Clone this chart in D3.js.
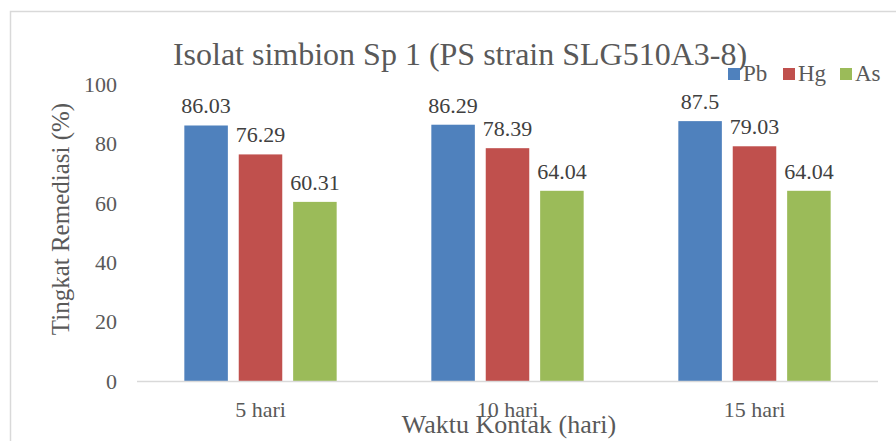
<!DOCTYPE html>
<html>
<head>
<meta charset="utf-8">
<script src="https://cdn.jsdelivr.net/npm/d3@7"></script>
<style>
  body { margin: 0; background: #fff; }
  svg { display: block; font-family: "Liberation Serif", "Times New Roman", serif; }
</style>
</head>
<body>
<svg class="chart"></svg>
<script>
const categories = ['5 hari', '10 hari', '15 hari'];
const seriesNames = ['Pb', 'Hg', 'As'];
const pbValues = [86.03, 86.29, 87.5];
const hgValues = [76.29, 78.39, 79.03];
const asValues = [60.31, 64.04, 64.04];
const yTicks = [0, 20, 40, 60, 80, 100];

const colors = { Pb: '#4F81BD', Hg: '#C0504D', As: '#9BBB59' };
const values = { Pb: pbValues, Hg: hgValues, As: asValues };

const width = 896;
const height = 441;
const margin = { top: 84, bottom: 60, right: 18, left: 137 };

const svg = d3.select('.chart')
  .attr('width', width)
  .attr('height', height);

// chart frame
svg.append('rect')
  .attr('x', 10.5)
  .attr('y', 11.5)
  .attr('width', 900)
  .attr('height', 450)
  .attr('fill', 'none')
  .attr('stroke', '#d9d9d9')
  .attr('stroke-width', 1.5);

const x0 = d3.scaleBand()
  .domain(categories)
  .range([margin.left, width - margin.right]);

const x1 = d3.scaleBand()
  .domain(seriesNames)
  .range([0, x0.bandwidth()])
  .paddingInner(0.2)
  .paddingOuter(0.87);

const y = d3.scaleLinear()
  .domain([0, 100])
  .range([height - margin.bottom, margin.top]);

const rows = categories.map((c, i) => ({
  category: c,
  items: seriesNames.map(s => ({ series: s, value: values[s][i] }))
}));

// y tick labels
svg.append('g')
  .selectAll('text')
  .data(yTicks)
  .enter()
  .append('text')
  .attr('x', 117)
  .attr('y', d => y(d))
  .attr('dy', '0.35em')
  .attr('text-anchor', 'end')
  .attr('font-size', 22)
  .attr('fill', '#595959')
  .text(d => d);

const groups = svg.append('g')
  .selectAll('g')
  .data(rows)
  .enter()
  .append('g')
  .attr('transform', d => `translate(${x0(d.category)}, 0)`);

groups.selectAll('rect')
  .data(d => d.items)
  .enter()
  .append('rect')
  .attr('x', d => x1(d.series))
  .attr('y', d => y(d.value))
  .attr('width', x1.bandwidth())
  .attr('height', d => y(0) - y(d.value))
  .attr('fill', d => colors[d.series]);

groups.selectAll('text')
  .data(d => d.items)
  .enter()
  .append('text')
  .attr('x', d => x1(d.series) + x1.bandwidth() / 2)
  .attr('y', d => y(d.value) - 12)
  .attr('text-anchor', 'middle')
  .attr('font-size', 22)
  .attr('fill', '#404040')
  .text(d => d.value);

// baseline
svg.append('line')
  .attr('x1', margin.left)
  .attr('x2', width - margin.right)
  .attr('y1', y(0) + 0.5)
  .attr('y2', y(0) + 0.5)
  .attr('stroke', '#d9d9d9')
  .attr('stroke-width', 1.5);

// x tick labels
svg.append('g')
  .selectAll('text')
  .data(categories)
  .enter()
  .append('text')
  .attr('x', d => x0(d) + x0.bandwidth() / 2)
  .attr('y', 417)
  .attr('text-anchor', 'middle')
  .attr('font-size', 22)
  .attr('fill', '#595959')
  .text(d => d);

// axis titles
svg.append('text')
  .attr('x', 509)
  .attr('y', 433)
  .attr('text-anchor', 'middle')
  .attr('font-size', 26)
  .attr('fill', '#595959')
  .text('Waktu Kontak (hari)');

svg.append('text')
  .attr('transform', 'translate(69, 219) rotate(-90)')
  .attr('text-anchor', 'middle')
  .attr('font-size', 25)
  .attr('fill', '#595959')
  .text('Tingkat Remediasi (%)');

// title
svg.append('text')
  .attr('x', 460)
  .attr('y', 65)
  .attr('text-anchor', 'middle')
  .attr('font-size', 32)
  .attr('fill', '#595959')
  .text('Isolat simbion Sp 1 (PS strain SLG510A3-8)');

// legend
const legendX = [728, 783, 840];
const legend = svg.append('g')
  .selectAll('g')
  .data(seriesNames)
  .enter()
  .append('g')
  .attr('transform', (d, i) => `translate(${legendX[i]}, 68)`);

legend.append('rect')
  .attr('width', 12)
  .attr('height', 12)
  .attr('fill', d => colors[d]);

legend.append('text')
  .attr('x', 15)
  .attr('y', 13)
  .attr('font-size', 23)
  .attr('fill', '#595959')
  .text(d => d);
</script>
</body>
</html>
